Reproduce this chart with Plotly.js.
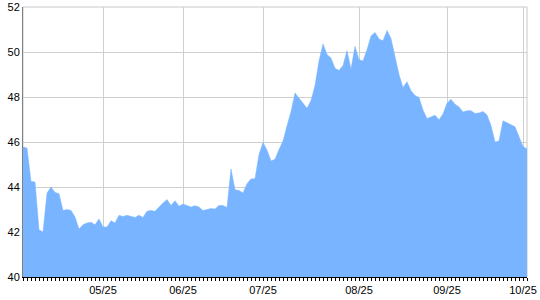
<!DOCTYPE html>
<html>
<head>
<meta charset="utf-8">
<script src="https://cdn.plot.ly/plotly-3.0.1.min.js"></script>
<style>html,body{margin:0;padding:0;background:#fff;}#chart{width:540px;height:300px;}</style>
</head>
<body>
<div id="chart"></div>
<script>
// Daily values (one per trading day)
const values = [
  45.78, 45.73, 44.25, 44.22, 42.10, 42.00, 43.73, 44.00, 43.76, 43.70,
  42.95, 43.00, 42.96, 42.67, 42.13, 42.32, 42.40, 42.43, 42.32, 42.58,
  42.22, 42.22, 42.50, 42.40, 42.74, 42.69, 42.74, 42.69, 42.65, 42.74,
  42.65, 42.92, 42.96, 42.92, 43.11, 43.29, 43.44, 43.18, 43.39, 43.14,
  43.24, 43.18, 43.11, 43.17, 43.11, 42.96, 43.00, 43.04, 43.02, 43.18,
  43.18, 43.09, 44.80, 43.88, 43.84, 43.73, 44.15, 44.36, 44.37, 45.44,
  45.98, 45.64, 45.16, 45.23, 45.67, 46.04, 46.72, 47.35, 48.18, 47.95,
  47.68, 47.50, 47.84, 48.51, 49.60, 50.36, 49.89, 49.73, 49.28, 49.18,
  49.40, 50.06, 49.24, 50.25, 49.66, 49.60, 50.10, 50.71, 50.87, 50.58,
  50.50, 50.96, 50.60, 49.78, 49.00, 48.42, 48.68, 48.28, 48.07, 47.98,
  47.42, 47.04, 47.10, 47.19, 46.99, 47.25, 47.72, 47.90, 47.68, 47.56,
  47.33, 47.39, 47.39, 47.27, 47.29, 47.36, 47.20, 46.73, 46.00, 46.05,
  46.94, 46.84, 46.77, 46.68, 46.25, 45.80, 45.69
];
const dayIndex = values.map((_, i) => i);
// Month-start positions (trading-day index) and their labels
const monthTickIndex = [20, 40, 60, 84, 106, 125];
const monthTickLabels = ['05/25', '06/25', '07/25', '08/25', '09/25', '10/25'];
const yTicks = [40, 42, 44, 46, 48, 50, 52];

const trace = {
  x: dayIndex,
  y: values,
  type: 'scatter',
  mode: 'lines',
  fill: 'tozeroy',
  fillcolor: '#78B4FF',
  line: {color: '#78B4FF', width: 0.5},
  hoverinfo: 'skip'
};

const layout = {
  width: 540,
  height: 300,
  margin: {l: 23, r: 13, t: 7, b: 23, pad: 0},
  paper_bgcolor: '#ffffff',
  plot_bgcolor: '#ffffff',
  showlegend: false,
  font: {family: 'Liberation Sans, Arial, sans-serif', size: 11, color: '#000'},
  xaxis: {
    range: [0, values.length - 1],
    tickmode: 'array',
    tickvals: monthTickIndex,
    ticktext: monthTickLabels,
    showgrid: true,
    gridcolor: '#cfcfcf',
    gridwidth: 1,
    zeroline: false,
    showline: true,
    linecolor: '#000',
    linewidth: 1,
    ticks: 'outside',
    ticklen: 3,
    tickcolor: '#000',
    tickfont: {family: 'Liberation Sans, Arial, sans-serif', size: 11, color: '#000'},
    minor: {tickmode: 'linear', tick0: 0, dtick: 1, ticks: 'outside', ticklen: 3, tickcolor: '#000', showgrid: false},
    fixedrange: true
  },
  yaxis: {
    range: [40, 52],
    tickmode: 'array',
    tickvals: yTicks,
    ticktext: yTicks.map(String),
    showgrid: true,
    gridcolor: '#cfcfcf',
    gridwidth: 1,
    zeroline: false,
    showline: true,
    linecolor: '#808080',
    linewidth: 1,
    ticks: '',
    ticklabelstandoff: 0,
    tickfont: {family: 'Liberation Sans, Arial, sans-serif', size: 11, color: '#000'},
    fixedrange: true
  },
  shapes: [{
    type: 'rect', xref: 'paper', yref: 'paper', x0: 0, x1: 1, y0: 0, y1: 1,
    line: {color: '#c8c8c8', width: 1}, layer: 'below'
  }]
};

Plotly.newPlot('chart', [trace], layout, {displayModeBar: false, staticPlot: true});
</script>
</body>
</html>
